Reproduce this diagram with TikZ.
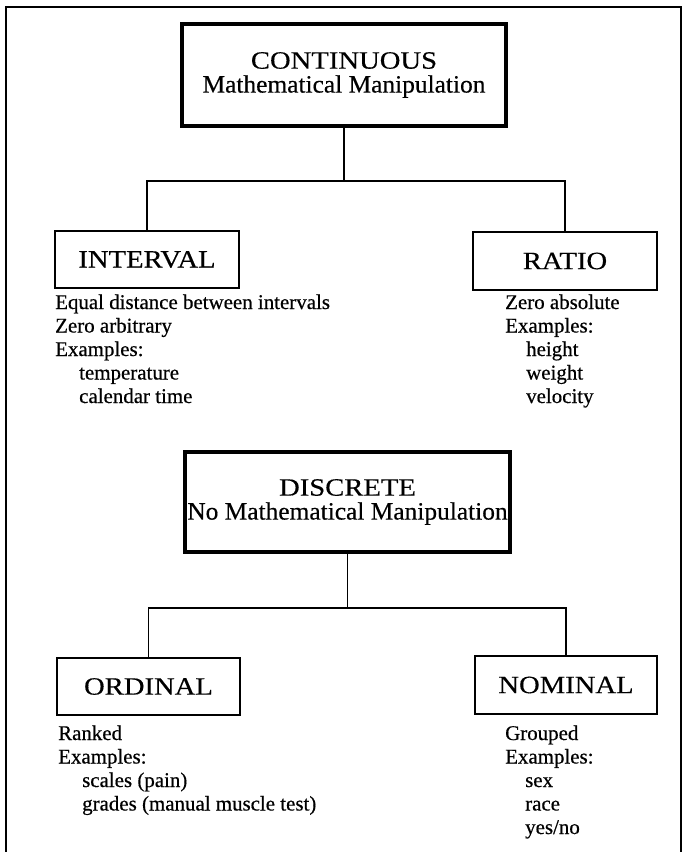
\documentclass[tikz,border=0pt]{standalone}
\usepackage{fontspec}
\setmainfont{Liberation Serif}
\newfontfamily\bodyf[FakeBold=0.5]{Liberation Serif}
\newfontfamily\titf[FakeStretch=1.15,FakeBold=0.4]{Liberation Serif}
\newfontfamily\subf[FakeStretch=1.02,FakeBold=0.4]{Liberation Serif}
\begin{document}
\begin{tikzpicture}[x=1bp,y=-1bp,
  frameline/.style={line width=1.5bp},
  bigbox/.style={draw,line width=3.5bp,inner sep=0pt,align=center,
    font=\fontsize{25}{24}\selectfont},
  smallbox/.style={draw,line width=1.8bp,inner sep=0pt,
    font=\titf\fontsize{25}{24}\selectfont},
  conn/.style={line width=1.8bp},
  txt/.style={anchor=base west,inner sep=0pt,font=\bodyf\fontsize{21}{21}\selectfont}]
\useasboundingbox (0,0) rectangle (683,852);
\fill[white] (0,0) rectangle (683,852);
% frame
\draw[frameline] (6,852) -- (6,7) -- (681,7) -- (681,852);
% top tree
\node[bigbox,minimum width=324bp,minimum height=102bp] (cont) at (344,75)
  {{\titf CONTINUOUS}\\{\subf Mathematical Manipulation}};
\coordinate (br1) at (344,181);
\node[smallbox,minimum width=184bp,minimum height=57bp] (int) at (147,259.5) {INTERVAL};
\node[smallbox,minimum width=184bp,minimum height=58bp] (rat) at (565,261) {RATIO};
\draw[conn] (cont.south) -- (br1);
\draw[conn] (int.north) |- (br1) -| (rat.north);
% interval list
\node[txt] (i1) at (55,309) {Equal distance between intervals};
\node[txt] (i2) at (55,332.5) {Zero arbitrary};
\node[txt] (i3) at (55,356) {Examples:};
\node[txt] (i4) at (79,379.5) {temperature};
\node[txt] (i5) at (79,403) {calendar time};
% ratio list
\node[txt] (r1) at (505,309) {Zero absolute};
\node[txt] (r2) at (505,332.5) {Examples:};
\node[txt] (r3) at (526,356) {height};
\node[txt] (r4) at (526,379.5) {weight};
\node[txt] (r5) at (526,403) {velocity};
% bottom tree
\node[bigbox,minimum width=325bp,minimum height=100bp] (disc) at (347.5,502)
  {{\titf DISCRETE}\\{\subf No Mathematical Manipulation}};
\coordinate (br2) at (344,608);
\node[smallbox,minimum width=183bp,minimum height=57bp] (ord) at (148.5,686.5) {ORDINAL};
\node[smallbox,minimum width=182bp,minimum height=58bp] (nom) at (566,685) {NOMINAL};
\draw[conn] (disc.south) -- (disc.south |- br2);
\draw[conn] (ord.north) |- (br2) -| (nom.north);
% ordinal list
\node[txt] (o1) at (58,740) {Ranked};
\node[txt] (o2) at (58,763.5) {Examples:};
\node[txt] (o3) at (82,787) {scales (pain)};
\node[txt] (o4) at (82,810.5) {grades (manual muscle test)};
% nominal list
\node[txt] (n1) at (505,740) {Grouped};
\node[txt] (n2) at (505,763.5) {Examples:};
\node[txt] (n3) at (525,787) {sex};
\node[txt] (n4) at (525,810.5) {race};
\node[txt] (n5) at (525,834) {yes/no};
\end{tikzpicture}
\end{document}
